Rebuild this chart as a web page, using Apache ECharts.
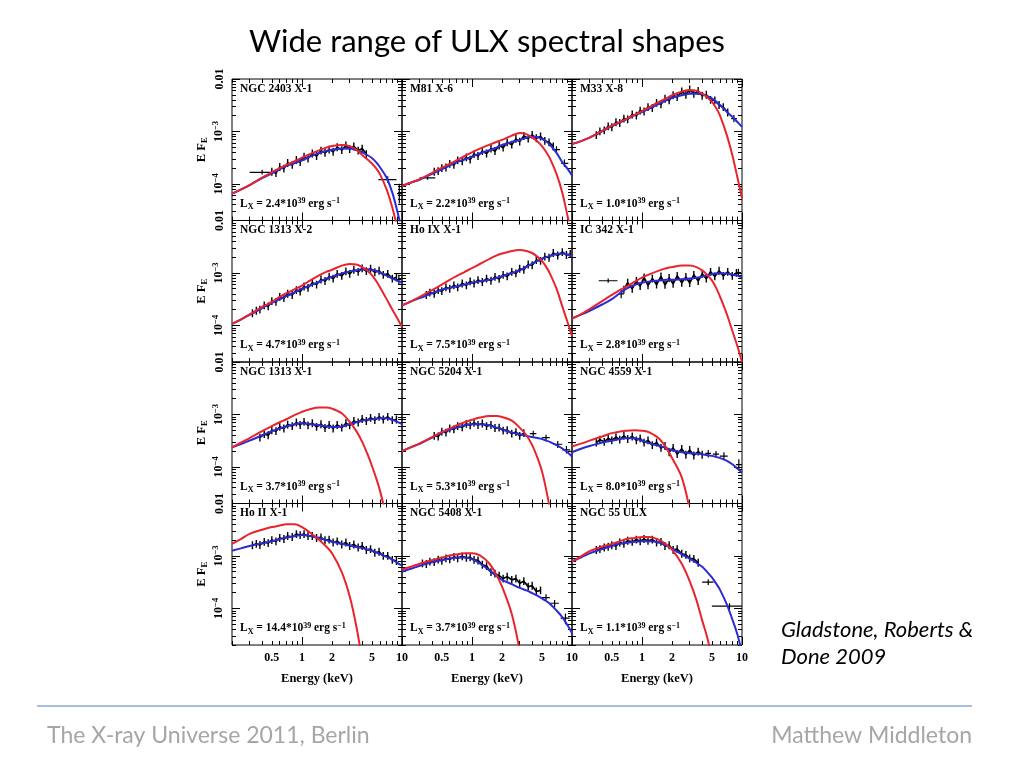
<!DOCTYPE html>
<html><head><meta charset="utf-8">
<script src="https://cdn.jsdelivr.net/npm/echarts@6/dist/echarts.min.js"></script>
<style>html,body{margin:0;padding:0;background:#fff}#c{width:1024px;height:768px}</style>
</head><body><div id="c"></div>
<script>
// ---------- text ----------
const SOURCES = ['NGC 2403 X-1','M81 X-6','M33 X-8','NGC 1313 X-2','Ho IX X-1','IC 342 X-1',
                 'NGC 1313 X-1','NGC 5204 X-1','NGC 4559 X-1','Ho II X-1','NGC 5408 X-1','NGC 55 ULX'];
const LUMINOSITY = ['2.4','2.2','1.0','4.7','7.5','2.8','3.7','5.3','8.0','14.4','3.7','1.1'];

// ---------- axes ----------
const X_RANGE = [0.2, 10];
const Y_RANGE = [2e-5, 0.01];
const X_MAJOR = [1, 10];
const X_MINOR = [0.2,0.3,0.4,0.5,0.6,0.7,0.8,0.9,2,3,4,5,6,7,8,9];
const X_LABELS = [0.5, 1, 2, 5, 10];
const Y_MAJOR = [1e-4, 1e-3, 1e-2];
const Y_MINOR = [2e-5,3e-5,4e-5,5e-5,6e-5,7e-5,8e-5,9e-5,2e-4,3e-4,4e-4,5e-4,6e-4,7e-4,8e-4,9e-4,2e-3,3e-3,4e-3,5e-3,6e-3,7e-3,8e-3,9e-3];
const Y_LABELS = [1e-4, 1e-3, 1e-2];

// ---------- model curves (energy grid, keV) ----------
const MODEL_E = [0.2,0.25,0.3,0.4,0.5,0.6,0.7,0.85,1,1.2,1.5,1.75,2,2.5,3,3.5,4,4.5,5,5.5,6,7,8,9,10];

const RED_P1 = [6.5e-5,7.9e-5,9.5e-5,1.32e-4,1.66e-4,2.0e-4,2.3e-4,2.7e-4,3.16e-4,3.7e-4,4.4e-4,4.9e-4,5.25e-4,5.5e-4,5.25e-4,4.5e-4,3.55e-4,2.95e-4,2.45e-4,2.0e-4,1.55e-4,7.9e-5,3.55e-5,1.4e-5,5e-6];
const BLUE_P1 = [6.5e-5,7.9e-5,9.5e-5,1.29e-4,1.58e-4,1.9e-4,2.2e-4,2.5e-4,2.8e-4,3.3e-4,3.9e-4,4.25e-4,4.45e-4,4.7e-4,4.7e-4,4.4e-4,4.0e-4,3.55e-4,3.1e-4,2.6e-4,2.1e-4,1.32e-4,6.8e-5,2.95e-5,1.26e-5];
const RED_P2 = [9.1e-5,1.07e-4,1.23e-4,1.62e-4,2.04e-4,2.4e-4,2.8e-4,3.4e-4,4.0e-4,4.7e-4,5.6e-4,6.3e-4,6.9e-4,8.3e-4,9.3e-4,8.9e-4,7.6e-4,6.5e-4,5.25e-4,4.1e-4,3.1e-4,1.55e-4,6.8e-5,2.5e-5,1.0e-5];
const BLUE_P2 = [9.1e-5,1.07e-4,1.2e-4,1.55e-4,1.9e-4,2.24e-4,2.57e-4,2.95e-4,3.3e-4,3.8e-4,4.4e-4,4.9e-4,5.5e-4,6.3e-4,6.9e-4,7.6e-4,7.9e-4,7.8e-4,7.2e-4,6.5e-4,5.6e-4,3.9e-4,2.6e-4,1.95e-4,1.45e-4];
const RED_P3 = [5.75e-4,6.6e-4,7.6e-4,1.02e-3,1.29e-3,1.51e-3,1.74e-3,2.09e-3,2.45e-3,2.95e-3,3.7e-3,4.27e-3,4.9e-3,5.75e-3,6.2e-3,6.0e-3,5.25e-3,4.47e-3,3.7e-3,2.8e-3,2.04e-3,8.9e-4,3.55e-4,1.32e-4,5.4e-5];
const BLUE_P3 = [5.75e-4,6.6e-4,7.6e-4,1.0e-3,1.26e-3,1.48e-3,1.7e-3,2.04e-3,2.34e-3,2.75e-3,3.4e-3,3.9e-3,4.4e-3,4.9e-3,5.25e-3,5.25e-3,5.1e-3,4.7e-3,4.27e-3,3.7e-3,3.24e-3,2.4e-3,1.9e-3,1.51e-3,1.23e-3];
const RED_P4 = [1.07e-4,1.32e-4,1.62e-4,2.24e-4,2.8e-4,3.5e-4,4.1e-4,4.9e-4,5.75e-4,7.1e-4,9.1e-4,1.05e-3,1.15e-3,1.38e-3,1.48e-3,1.45e-3,1.29e-3,1.1e-3,9.1e-4,7.1e-4,5.4e-4,3.2e-4,2.0e-4,1.35e-4,9.3e-5];
const BLUE_P4 = [1.07e-4,1.32e-4,1.58e-4,2.14e-4,2.7e-4,3.16e-4,3.6e-4,4.3e-4,5.0e-4,5.75e-4,6.8e-4,7.8e-4,8.5e-4,9.8e-4,1.07e-3,1.12e-3,1.17e-3,1.17e-3,1.15e-3,1.1e-3,1.02e-3,8.9e-4,7.8e-4,7.1e-4,6.5e-4];
const RED_P5 = [2.4e-4,2.9e-4,3.5e-4,4.7e-4,6.0e-4,7.4e-4,8.7e-4,1.05e-3,1.23e-3,1.48e-3,1.86e-3,2.14e-3,2.34e-3,2.63e-3,2.75e-3,2.63e-3,2.4e-3,2.04e-3,1.7e-3,1.32e-3,9.8e-4,5.0e-4,2.3e-4,1.17e-4,6.3e-5];
const BLUE_P5 = [2.4e-4,2.9e-4,3.3e-4,4.1e-4,4.8e-4,5.2e-4,5.5e-4,6.0e-4,6.5e-4,6.9e-4,7.4e-4,8.0e-4,8.7e-4,1.0e-3,1.12e-3,1.32e-3,1.51e-3,1.7e-3,1.86e-3,2.0e-3,2.1e-3,2.3e-3,2.34e-3,2.24e-3,2.04e-3];
const RED_P6 = [1.35e-4,1.66e-4,2.04e-4,2.9e-4,3.8e-4,4.7e-4,5.5e-4,6.8e-4,8.1e-4,9.5e-4,1.12e-3,1.23e-3,1.29e-3,1.38e-3,1.38e-3,1.29e-3,1.12e-3,9.1e-4,7.2e-4,5.25e-4,3.6e-4,1.7e-4,7.9e-5,4.0e-5,2.0e-5];
const BLUE_P6 = [1.35e-4,1.62e-4,1.9e-4,2.5e-4,3.16e-4,4.1e-4,5.0e-4,5.9e-4,6.5e-4,6.9e-4,7.2e-4,7.4e-4,7.4e-4,7.6e-4,7.8e-4,8.1e-4,8.5e-4,9.1e-4,9.5e-4,9.8e-4,9.8e-4,9.8e-4,9.3e-4,8.9e-4,8.1e-4];
const RED_P7 = [2.35e-4,2.95e-4,3.55e-4,4.8e-4,6.0e-4,7.1e-4,8.1e-4,9.8e-4,1.12e-3,1.26e-3,1.35e-3,1.35e-3,1.29e-3,1.05e-3,7.2e-4,4.8e-4,3.0e-4,1.78e-4,1.05e-4,6.2e-5,3.6e-5,1.12e-5,4e-6,null,null];
const BLUE_P7 = [2.35e-4,2.75e-4,3.16e-4,4.0e-4,4.8e-4,5.4e-4,5.9e-4,6.5e-4,6.8e-4,6.6e-4,6.2e-4,5.9e-4,5.75e-4,5.9e-4,6.5e-4,7.1e-4,7.6e-4,7.9e-4,8.1e-4,8.3e-4,8.5e-4,8.5e-4,7.9e-4,7.2e-4,6.5e-4];
const RED_P8 = [2.0e-4,2.4e-4,2.8e-4,3.7e-4,4.6e-4,5.4e-4,6.2e-4,7.1e-4,7.9e-4,8.7e-4,9.3e-4,9.3e-4,8.9e-4,7.6e-4,5.6e-4,4.0e-4,2.6e-4,1.51e-4,8.3e-5,3.8e-5,1.6e-5,2.5e-6,null,null,null];
const BLUE_P8 = [2.0e-4,2.4e-4,2.75e-4,3.6e-4,4.5e-4,5.1e-4,5.6e-4,6.2e-4,6.5e-4,6.5e-4,6.2e-4,5.6e-4,5.25e-4,4.5e-4,4.2e-4,3.9e-4,3.7e-4,3.55e-4,3.4e-4,3.16e-4,3.0e-4,2.6e-4,2.24e-4,1.9e-4,1.58e-4];
const RED_P9 = [2.45e-4,2.8e-4,3.16e-4,3.8e-4,4.4e-4,4.7e-4,4.9e-4,5.0e-4,4.9e-4,4.5e-4,3.4e-4,2.3e-4,1.48e-4,6.3e-5,1.58e-5,4e-6,null,null,null,null,null,null,null,null,null];
const BLUE_P9 = [1.9e-4,2.24e-4,2.5e-4,2.9e-4,3.16e-4,3.4e-4,3.55e-4,3.5e-4,3.16e-4,2.8e-4,2.5e-4,2.3e-4,2.1e-4,1.9e-4,1.82e-4,1.78e-4,1.74e-4,1.66e-4,1.62e-4,1.55e-4,1.48e-4,1.32e-4,1.12e-4,9.3e-5,7.8e-5];
const RED_P10 = [1.7e-3,2.14e-3,2.63e-3,3.16e-3,3.55e-3,3.8e-3,4.0e-3,4.0e-3,3.55e-3,2.8e-3,2.0e-3,1.51e-3,1.12e-3,4.9e-4,1.7e-4,4.5e-5,1e-5,null,null,null,null,null,null,null,null];
const BLUE_P10 = [1.26e-3,1.41e-3,1.55e-3,1.74e-3,1.9e-3,2.1e-3,2.24e-3,2.4e-3,2.5e-3,2.4e-3,2.2e-3,2.0e-3,1.86e-3,1.7e-3,1.58e-3,1.48e-3,1.41e-3,1.32e-3,1.26e-3,1.17e-3,1.1e-3,9.6e-4,8.5e-4,7.4e-4,6.5e-4];
const RED_P11 = [5.5e-4,6.3e-4,7.1e-4,8.3e-4,9.3e-4,1.02e-3,1.07e-3,1.12e-3,1.12e-3,1.02e-3,7.1e-4,4.4e-4,2.6e-4,7.8e-5,1.58e-5,3e-6,null,null,null,null,null,null,null,null,null];
const BLUE_P11 = [5.0e-4,5.75e-4,6.5e-4,7.6e-4,8.3e-4,8.9e-4,9.3e-4,9.3e-4,8.7e-4,7.2e-4,5.25e-4,4.2e-4,3.5e-4,2.9e-4,2.45e-4,2.2e-4,1.95e-4,1.74e-4,1.55e-4,1.38e-4,1.23e-4,9.1e-5,6.8e-5,4.8e-5,3.4e-5];
const RED_P12 = [7.8e-4,1.0e-3,1.23e-3,1.51e-3,1.7e-3,1.9e-3,2.1e-3,2.2e-3,2.3e-3,2.3e-3,2.0e-3,1.66e-3,1.32e-3,7.1e-4,3.3e-4,1.45e-4,5.9e-5,2.75e-5,1.12e-5,null,null,null,null,null,null];
const BLUE_P12 = [7.8e-4,9.5e-4,1.12e-3,1.35e-3,1.55e-3,1.7e-3,1.78e-3,1.86e-3,1.9e-3,1.9e-3,1.78e-3,1.58e-3,1.38e-3,1.07e-3,8.9e-4,7.4e-4,6.2e-4,4.9e-4,3.9e-4,3.0e-4,2.3e-4,1.23e-4,6.2e-5,3.16e-5,1.4e-5];

// ---------- observed spectra [E keV, E F_E] ----------
const DATA_P1 = [[0.5,1.7e-4],[0.55,1.6e-4],[0.6,2.1e-4],[0.66,1.95e-4],[0.72,2.5e-4],[0.8,2.3e-4],[0.88,2.85e-4],[0.96,2.6e-4],[1.05,3.3e-4],[1.15,3.05e-4],[1.27,3.8e-4],[1.4,3.4e-4],[1.55,4.3e-4],[1.7,3.9e-4],[1.87,4.5e-4],[2.05,4.1e-4],[2.25,5.0e-4],[2.5,4.4e-4],[2.75,5.4e-4],[3.0,4.6e-4],[3.3,5.2e-4],[3.65,4.3e-4],[4.0,4.7e-4],[4.4,3.7e-4]];
const DATA_P2 = [[0.42,1.7e-4],[0.46,1.75e-4],[0.5,2.0e-4],[0.55,2.05e-4],[0.6,2.4e-4],[0.66,2.3e-4],[0.72,2.8e-4],[0.8,2.7e-4],[0.88,3.2e-4],[0.96,2.9e-4],[1.05,3.7e-4],[1.15,3.4e-4],[1.27,4.2e-4],[1.4,3.8e-4],[1.55,4.7e-4],[1.7,4.2e-4],[1.87,5.4e-4],[2.05,4.9e-4],[2.25,6.2e-4],[2.5,5.6e-4],[2.75,7.2e-4],[3.0,6.4e-4],[3.3,8.2e-4],[3.65,7.3e-4],[4.0,8.6e-4],[4.4,7.4e-4],[4.85,8.0e-4],[5.35,6.6e-4],[5.9,6.2e-4],[6.5,5.2e-4]];
const DATA_P3 = [[0.35,8.5e-4],[0.38,1.0e-3],[0.42,1.05e-3],[0.46,1.25e-3],[0.5,1.2e-3],[0.55,1.5e-3],[0.6,1.45e-3],[0.66,1.75e-3],[0.72,1.7e-3],[0.8,2.1e-3],[0.88,2.0e-3],[0.96,2.5e-3],[1.05,2.4e-3],[1.15,2.9e-3],[1.27,2.8e-3],[1.4,3.5e-3],[1.55,3.3e-3],[1.7,4.2e-3],[1.87,3.9e-3],[2.05,4.9e-3],[2.25,4.5e-3],[2.5,5.8e-3],[2.75,5.0e-3],[3.0,6.3e-3],[3.3,5.2e-3],[3.65,5.9e-3],[4.0,4.8e-3],[4.4,5.0e-3],[4.85,4.0e-3],[5.35,3.9e-3],[5.9,3.2e-3],[6.5,2.9e-3],[7.2,2.3e-3]];
const DATA_P4 = [[0.32,1.7e-4],[0.35,1.9e-4],[0.38,2.0e-4],[0.42,2.4e-4],[0.46,2.3e-4],[0.5,2.9e-4],[0.55,2.8e-4],[0.6,3.5e-4],[0.66,3.3e-4],[0.72,4.0e-4],[0.8,3.8e-4],[0.88,4.7e-4],[0.96,4.4e-4],[1.05,5.5e-4],[1.15,5.2e-4],[1.27,6.5e-4],[1.4,6.0e-4],[1.55,7.5e-4],[1.7,7.0e-4],[1.87,8.5e-4],[2.05,7.8e-4],[2.25,9.6e-4],[2.5,8.8e-4],[2.75,1.07e-3],[3.0,9.6e-4],[3.3,1.15e-3],[3.65,1.05e-3],[4.0,1.22e-3],[4.4,1.08e-3],[4.85,1.2e-3],[5.35,1.03e-3],[5.9,1.1e-3],[6.5,9.2e-4],[7.2,9.6e-4],[8.0,7.8e-4],[8.8,8.2e-4]];
const DATA_P5 = [[0.35,3.8e-4],[0.38,4.2e-4],[0.42,4.0e-4],[0.46,4.7e-4],[0.5,4.5e-4],[0.55,5.3e-4],[0.6,5.0e-4],[0.66,5.8e-4],[0.72,5.3e-4],[0.8,6.3e-4],[0.88,5.8e-4],[0.96,6.9e-4],[1.05,6.3e-4],[1.15,7.3e-4],[1.27,6.7e-4],[1.4,7.8e-4],[1.55,7.1e-4],[1.7,8.4e-4],[1.87,7.7e-4],[2.05,9.2e-4],[2.25,8.6e-4],[2.5,1.05e-3],[2.75,9.8e-4],[3.0,1.2e-3],[3.3,1.15e-3],[3.65,1.45e-3],[4.0,1.4e-3],[4.4,1.75e-3],[4.85,1.7e-3],[5.35,2.05e-3],[5.9,1.95e-3],[6.5,2.4e-3],[7.2,2.15e-3],[8.0,2.5e-3],[8.8,2.2e-3],[9.6,2.3e-3]];
const DATA_P6 = [[0.66,4.8e-4],[0.72,6.5e-4],[0.8,5.0e-4],[0.88,7.0e-4],[0.96,5.6e-4],[1.05,8.2e-4],[1.15,5.8e-4],[1.27,7.8e-4],[1.4,6.0e-4],[1.55,8.6e-4],[1.7,5.9e-4],[1.87,8.0e-4],[2.05,6.2e-4],[2.25,8.8e-4],[2.5,6.5e-4],[2.75,8.4e-4],[3.0,6.4e-4],[3.3,9.2e-4],[3.65,7.0e-4],[4.0,9.6e-4],[4.4,7.8e-4],[4.85,1.05e-3],[5.35,8.6e-4],[5.9,1.1e-3],[6.5,8.8e-4],[7.2,1.05e-3],[8.0,8.8e-4],[8.8,1.0e-3]];
const DATA_P7 = [[0.38,3.6e-4],[0.42,4.2e-4],[0.46,4.0e-4],[0.5,5.0e-4],[0.55,4.8e-4],[0.6,5.8e-4],[0.66,5.4e-4],[0.72,6.4e-4],[0.8,6.0e-4],[0.88,7.0e-4],[0.96,6.3e-4],[1.05,7.2e-4],[1.15,6.2e-4],[1.27,6.8e-4],[1.4,5.8e-4],[1.55,6.5e-4],[1.7,5.5e-4],[1.87,6.3e-4],[2.05,5.4e-4],[2.25,6.3e-4],[2.5,5.6e-4],[2.75,6.8e-4],[3.0,6.2e-4],[3.3,7.5e-4],[3.65,7.0e-4],[4.0,8.2e-4],[4.4,7.5e-4],[4.85,8.6e-4],[5.35,7.8e-4],[5.9,9.0e-4],[6.5,8.0e-4],[7.2,9.0e-4],[8.0,7.8e-4],[8.8,8.0e-4]];
const DATA_P8 = [[0.42,3.9e-4],[0.46,3.8e-4],[0.5,4.7e-4],[0.55,4.5e-4],[0.6,5.4e-4],[0.66,5.2e-4],[0.72,6.0e-4],[0.8,5.7e-4],[0.88,6.6e-4],[0.96,6.2e-4],[1.05,6.9e-4],[1.15,6.3e-4],[1.27,6.7e-4],[1.4,6.0e-4],[1.55,6.3e-4],[1.7,5.5e-4],[1.87,5.6e-4],[2.05,4.9e-4],[2.25,5.0e-4],[2.5,4.3e-4],[2.75,4.6e-4],[3.0,3.9e-4],[3.3,4.4e-4]];
const DATA_P9 = [[0.35,2.9e-4],[0.38,3.3e-4],[0.42,3.0e-4],[0.46,3.5e-4],[0.5,3.2e-4],[0.55,3.7e-4],[0.6,3.3e-4],[0.66,3.9e-4],[0.72,3.4e-4],[0.8,3.8e-4],[0.88,3.2e-4],[0.96,3.5e-4],[1.05,2.9e-4],[1.15,3.2e-4],[1.27,2.6e-4],[1.4,2.9e-4],[1.55,2.3e-4],[1.7,2.5e-4],[1.87,1.9e-4],[2.05,2.3e-4],[2.25,1.75e-4],[2.5,2.2e-4],[2.75,1.7e-4],[3.0,2.1e-4],[3.3,1.65e-4],[3.65,1.95e-4],[4.0,1.7e-4]];
const DATA_P10 = [[0.32,1.6e-3],[0.35,1.7e-3],[0.38,1.62e-3],[0.42,1.85e-3],[0.46,1.75e-3],[0.5,2.0e-3],[0.55,1.9e-3],[0.6,2.2e-3],[0.66,2.1e-3],[0.72,2.4e-3],[0.8,2.3e-3],[0.88,2.6e-3],[0.96,2.5e-3],[1.05,2.6e-3],[1.15,2.4e-3],[1.27,2.4e-3],[1.4,2.2e-3],[1.55,2.25e-3],[1.7,2.0e-3],[1.87,2.05e-3],[2.05,1.8e-3],[2.25,1.9e-3],[2.5,1.65e-3],[2.75,1.8e-3],[3.0,1.55e-3],[3.3,1.65e-3],[3.65,1.45e-3],[4.0,1.55e-3],[4.4,1.3e-3],[4.85,1.35e-3],[5.35,1.15e-3],[5.9,1.2e-3],[6.5,1.0e-3],[7.2,1.0e-3],[8.0,8.4e-4],[8.8,8.0e-4]];
const DATA_P11 = [[0.32,7.2e-4],[0.35,7.0e-4],[0.38,7.8e-4],[0.42,7.6e-4],[0.46,8.5e-4],[0.5,8.1e-4],[0.55,9.0e-4],[0.6,8.6e-4],[0.66,9.6e-4],[0.72,9.0e-4],[0.8,9.8e-4],[0.88,9.2e-4],[0.96,9.4e-4],[1.05,8.4e-4],[1.15,8.2e-4],[1.27,6.8e-4],[1.4,6.4e-4],[1.55,4.9e-4],[1.7,4.6e-4],[1.87,4.2e-4],[2.05,3.7e-4],[2.25,4.0e-4],[2.5,3.5e-4],[2.75,3.7e-4],[3.0,3.0e-4],[3.3,3.3e-4],[3.65,2.6e-4],[4.0,2.7e-4],[4.4,2.1e-4],[4.85,2.2e-4]];
const DATA_P12 = [[0.35,1.3e-3],[0.38,1.35e-3],[0.42,1.45e-3],[0.46,1.5e-3],[0.5,1.6e-3],[0.55,1.55e-3],[0.6,1.8e-3],[0.66,1.7e-3],[0.72,1.95e-3],[0.8,1.85e-3],[0.88,2.05e-3],[0.96,1.9e-3],[1.05,2.1e-3],[1.15,1.95e-3],[1.27,2.05e-3],[1.4,1.8e-3],[1.55,1.85e-3],[1.7,1.55e-3],[1.87,1.6e-3],[2.05,1.3e-3],[2.25,1.35e-3],[2.5,1.1e-3],[2.75,1.05e-3],[3.0,9.0e-4],[3.3,8.8e-4],[3.65,7.4e-4]];

// ---------- isolated binned points [E, F, Elo, Ehi, Flo, Fhi] ----------
const BINS_P1 = [[0.4,1.66e-4,0.3,0.5,1.5e-4,1.85e-4],[7.2,1.2e-4,5.8,8.8,1.05e-4,1.4e-4],[9.4,6.5e-5,8.9,10,4.2e-5,1.0e-4]];
const BINS_P2 = [[0.36,1.3e-4,0.3,0.43,1.2e-4,1.42e-4],[7.0,4.5e-4,6.4,7.6,3.9e-4,5.2e-4],[8.4,2.45e-4,7.8,9.2,2.1e-4,2.9e-4]];
const BINS_P3 = [[8.3,1.75e-3,7.8,8.9,1.5e-3,2.05e-3]];
const BINS_P4 = [[9.3,7.5e-4,8.9,9.8,6.0e-4,9.2e-4]];
const BINS_P5 = [];
const BINS_P6 = [[0.46,7.1e-4,0.37,0.57,6.5e-4,7.8e-4],[0.62,4.0e-4,0.59,0.66,3.3e-4,5.0e-4],[9.2,1.02e-3,8.7,9.8,8.8e-4,1.2e-3]];
const BINS_P7 = [];
const BINS_P8 = [[4.1,4.3e-4,3.8,4.4,3.8e-4,4.9e-4],[5.5,3.6e-4,5.0,6.0,3.2e-4,4.1e-4],[7.2,2.7e-4,6.5,8.0,2.3e-4,3.1e-4],[8.8,2.1e-4,8.0,9.6,1.8e-4,2.5e-4]];
const BINS_P9 = [[4.6,1.8e-4,4.3,4.9,1.5e-4,2.1e-4],[5.5,1.75e-4,5.1,5.9,1.5e-4,2.0e-4],[6.6,1.6e-4,6.0,7.2,1.35e-4,1.9e-4],[9.3,1.1e-4,8.7,10,8.5e-5,1.4e-4]];
const BINS_P10 = [];
const BINS_P11 = [[5.5,1.6e-4,5.0,6.0,1.4e-4,1.85e-4],[6.7,1.25e-4,6.0,7.4,1.05e-4,1.45e-4],[8.6,6.5e-5,7.7,9.5,5.0e-5,8.0e-5]];
const BINS_P12 = [[4.6,3.16e-4,4.0,5.2,2.8e-4,3.6e-4],[7.5,1.1e-4,5.0,10,9.5e-5,1.25e-4]];

const RED = [RED_P1,RED_P2,RED_P3,RED_P4,RED_P5,RED_P6,RED_P7,RED_P8,RED_P9,RED_P10,RED_P11,RED_P12];
const BLUE = [BLUE_P1,BLUE_P2,BLUE_P3,BLUE_P4,BLUE_P5,BLUE_P6,BLUE_P7,BLUE_P8,BLUE_P9,BLUE_P10,BLUE_P11,BLUE_P12];
const DATA = [DATA_P1,DATA_P2,DATA_P3,DATA_P4,DATA_P5,DATA_P6,DATA_P7,DATA_P8,DATA_P9,DATA_P10,DATA_P11,DATA_P12];
const BINS = [BINS_P1,BINS_P2,BINS_P3,BINS_P4,BINS_P5,BINS_P6,BINS_P7,BINS_P8,BINS_P9,BINS_P10,BINS_P11,BINS_P12];

// ---------- build ----------
const L = v => Math.log10(v);
const SERIF = 'Liberation Serif';
const RED_C = '#e8242c', BLUE_C = '#2b2bd6';
const tickStyle = {color:'#000', width:1};

function fmtX(v){ const e = Math.pow(10, v); return e < 1 ? e.toFixed(1) : String(Math.round(e)); }
function fmtY(v){ const k = Math.round(v); return k === -2 ? '0.01' : '10{sup|−' + (-k) + '}'; }

function barItem(params, api){
  const x = api.value(0), y = api.value(1);
  const a = api.coord([x, y - 0.075]), b = api.coord([x, y + 0.075]);
  return {type:'line', shape:{x1:a[0],y1:a[1],x2:b[0],y2:b[1]}, style:{stroke:'#000', lineWidth:1.4}};
}
function crossItem(params, api){
  const c = api.coord([api.value(0), api.value(1)]);
  const h1 = api.coord([api.value(2), api.value(1)]), h2 = api.coord([api.value(3), api.value(1)]);
  const v1 = api.coord([api.value(0), api.value(4)]), v2 = api.coord([api.value(0), api.value(5)]);
  return {type:'group', children:[
    {type:'line', shape:{x1:h1[0],y1:c[1],x2:h2[0],y2:c[1]}, style:{stroke:'#000', lineWidth:1.2}},
    {type:'line', shape:{x1:c[0],y1:v1[1],x2:c[0],y2:v2[1]}, style:{stroke:'#000', lineWidth:1.2}}
  ]};
}

const grids = [], xAxes = [], yAxes = [], series = [], graphics = [];
const PW = 170, PH = 141.5, X0 = 232, Y0 = 79;
const LAB_FONT = 'bold 11.5px "Liberation Serif"', SUP_FONT = 'bold 8px "Liberation Serif"';

for (let i = 0; i < 12; i++) {
  const r = Math.floor(i / 3), c = i % 3;
  const left = X0 + PW * c, top = Y0 + PH * r;
  const bottomRow = r === 3, leftCol = c === 0;
  grids.push({left, top, width:PW, height:PH, show:true, borderColor:'#000', borderWidth:1,
              backgroundColor:'rgba(0,0,0,0)', containLabel:false, outerBoundsMode:'none'});
  const xb = {type:'value', gridIndex:i, min:L(X_RANGE[0]), max:L(X_RANGE[1]),
              splitLine:{show:false}, axisLine:{show:false, onZero:false}};
  const yb = {type:'value', gridIndex:i, min:L(Y_RANGE[0]), max:L(Y_RANGE[1]),
              splitLine:{show:false}, axisLine:{show:false, onZero:false}};
  const major = vals => ({show:true, inside:true, length:8, customValues:vals.map(L), lineStyle:tickStyle});
  const minor = vals => ({show:true, inside:true, length:4, customValues:vals.map(L), lineStyle:tickStyle});
  const noLab = {show:false};
  xAxes.push(Object.assign({}, xb, {position:'bottom', axisTick:major(X_MAJOR),
    axisLabel: bottomRow ? {show:true, customValues:X_LABELS.map(L), formatter:fmtX, margin:7,
      color:'#000', fontFamily:SERIF, fontWeight:'bold', fontSize:12} : noLab,
    name: bottomRow ? 'Energy (keV)' : '', nameLocation:'middle', nameGap:27,
    nameTextStyle:{color:'#000', fontFamily:SERIF, fontWeight:'bold', fontSize:12.5}}));
  xAxes.push(Object.assign({}, xb, {position:'bottom', axisTick:minor(X_MINOR), axisLabel:noLab}));
  xAxes.push(Object.assign({}, xb, {position:'top', axisTick:major(X_MAJOR), axisLabel:noLab}));
  xAxes.push(Object.assign({}, xb, {position:'top', axisTick:minor(X_MINOR), axisLabel:noLab}));

  yAxes.push(Object.assign({}, yb, {position:'left', axisTick:major(Y_MAJOR),
    axisLabel: leftCol ? {show:true, customValues:Y_LABELS.map(L), formatter:fmtY, rotate:90, margin:6,
      color:'#000', fontFamily:SERIF, fontWeight:'bold', fontSize:12,
      rich:{sup:{fontFamily:SERIF, fontWeight:'bold', fontSize:8.5, verticalAlign:'top', padding:[0,0,6,0], color:'#000'}}} : noLab,
    name: leftCol ? 'E F{sub|E}' : '', nameLocation:'middle', nameGap:23, nameRotate:90,
    nameTextStyle:{color:'#000', fontFamily:SERIF, fontWeight:'bold', fontSize:12.5,
      rich:{sub:{fontFamily:SERIF, fontWeight:'bold', fontSize:8.5, verticalAlign:'bottom', padding:[5,0,0,0]}}}}));
  yAxes.push(Object.assign({}, yb, {position:'left', axisTick:minor(Y_MINOR), axisLabel:noLab}));
  yAxes.push(Object.assign({}, yb, {position:'right', axisTick:major(Y_MAJOR), axisLabel:noLab}));
  yAxes.push(Object.assign({}, yb, {position:'right', axisTick:minor(Y_MINOR), axisLabel:noLab}));

  const xi = 4 * i, yi = 4 * i;
  const pts = DATA[i].map(p => [L(p[0]), L(p[1])]);
  series.push({type:'line', xAxisIndex:xi, yAxisIndex:yi, data:pts, symbol:'none', silent:true,
               lineStyle:{color:'#000', width:1.7}, z:2, animation:false});
  series.push({type:'custom', xAxisIndex:xi, yAxisIndex:yi, data:pts, renderItem:barItem, clip:true, silent:true, z:2});
  series.push({type:'custom', xAxisIndex:xi, yAxisIndex:yi, clip:true, silent:true, z:2,
               data:BINS[i].map(b => b.map(L)), renderItem:crossItem});
  const model = arr => MODEL_E.map((e, k) => arr[k] == null ? null : [L(e), L(arr[k])]).filter(p => p);
  series.push({type:'line', xAxisIndex:xi, yAxisIndex:yi, data:model(BLUE[i]), symbol:'none', smooth:0.35,
               silent:true, clip:true, lineStyle:{color:BLUE_C, width:2}, z:3});
  series.push({type:'line', xAxisIndex:xi, yAxisIndex:yi, data:model(RED[i]), symbol:'none', smooth:0.35,
               silent:true, clip:true, lineStyle:{color:RED_C, width:2}, z:4});

  graphics.push({type:'text', x:left + 8, y:top + 10, z:10,
    style:{text:SOURCES[i], font:LAB_FONT, fill:'#000', textVerticalAlign:'middle'}});
  graphics.push({type:'text', x:left + 8, y:top + 125, z:10,
    style:{text:'L{sub|X} = ' + LUMINOSITY[i] + '*10{sup|39} erg s{sup|−1}', font:LAB_FONT,
      fill:'#000', textVerticalAlign:'middle',
      rich:{sub:{font:SUP_FONT, fill:'#000', verticalAlign:'bottom', padding:[6,0,0,0]},
            sup:{font:SUP_FONT, fill:'#000', verticalAlign:'top', padding:[0,0,6,0]}}}});
}

graphics.push({type:'text', x:487, y:42, style:{text:'Wide range of ULX spectral shapes',
  font:'31px Lato', fill:'#000', textAlign:'center', textVerticalAlign:'middle'}});
graphics.push({type:'line', shape:{x1:37, y1:706, x2:972, y2:706}, style:{stroke:'#4a7ebb', lineWidth:1}});
graphics.push({type:'text', x:47, y:736, style:{text:'The X-ray Universe 2011, Berlin',
  font:'23px Lato', fill:'#a6a6a6', textVerticalAlign:'middle'}});
graphics.push({type:'text', x:972, y:736, style:{text:'Matthew Middleton',
  font:'23px Lato', fill:'#a6a6a6', textAlign:'right', textVerticalAlign:'middle'}});
graphics.push({type:'text', x:781, y:630, style:{text:'Gladstone, Roberts &',
  font:'italic 22px Lato', fill:'#000', textVerticalAlign:'middle'}});
graphics.push({type:'text', x:781, y:657, style:{text:'Done 2009',
  font:'italic 22px Lato', fill:'#000', textVerticalAlign:'middle'}});

const chart = echarts.init(document.getElementById('c'), null, {renderer:'canvas'});
chart.setOption({animation:false, backgroundColor:'#fff', grid:grids, xAxis:xAxes, yAxis:yAxes,
                 series:series, graphic:{elements:graphics}});
</script></body></html>
